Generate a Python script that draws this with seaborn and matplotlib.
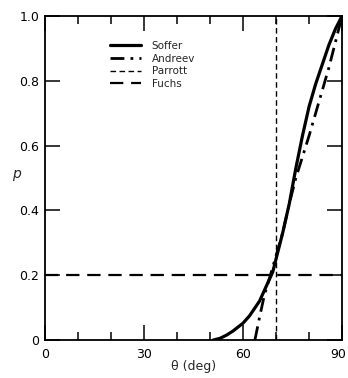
import matplotlib
matplotlib.use("Agg")
import matplotlib.pyplot as plt
from matplotlib.lines import Line2D
from matplotlib.ticker import MultipleLocator
from matplotlib.transforms import ScaledTranslation
import seaborn as sns
import pandas as pd

# Detection probability p versus angle theta for four models
soffer_theta = [51, 53, 55, 57, 60, 62, 65, 67, 69, 70, 72, 74, 76, 78, 80, 82, 84, 86, 88, 90]
soffer_p = [0.0, 0.005, 0.015, 0.028, 0.052, 0.075, 0.12, 0.165, 0.21, 0.25,
            0.33, 0.42, 0.53, 0.63, 0.72, 0.79, 0.85, 0.91, 0.96, 1.0]

andreev_theta = [63.6, 65, 66.5, 68, 70, 72, 74, 76, 78, 80, 82, 84, 86, 88, 90]
andreev_p = [0.0, 0.07, 0.14, 0.19, 0.26, 0.33, 0.42, 0.50, 0.565, 0.63,
             0.70, 0.77, 0.84, 0.92, 1.0]

parrott_theta = [70, 70]
parrott_p = [0.0, 1.0]

fuchs_theta = [0, 90]
fuchs_p = [0.2, 0.2]

x_ticks = [0, 30, 60, 90]
y_ticks = [0, 0.2, 0.4, 0.6, 0.8, 1.0]
y_tick_labels = ["0", "0.2", "0.4", "0.6", "0.8", "1.0"]

sns.set_theme(style="ticks")
plt.rcParams["font.family"] = ["DejaVu Sans"]

fig = plt.figure(figsize=(3.48, 3.78), dpi=100)
ax = fig.add_axes([0.129, 0.1005, 0.854, 0.8575])

styles = {
    "Soffer": dict(color="black", linewidth=2.3, linestyle="-"),
    "Andreev": dict(color="black", linewidth=2.0, linestyle=(0, (5, 2.2, 1, 2.2))),
    "Parrott": dict(color="black", linewidth=1.0, linestyle=(0, (4, 2.5))),
    "Fuchs": dict(color="black", linewidth=1.6, linestyle=(0, (6, 3.5))),
}

series = [
    ("Soffer", soffer_theta, soffer_p),
    ("Andreev", andreev_theta, andreev_p),
    ("Parrott", parrott_theta, parrott_p),
    ("Fuchs", fuchs_theta, fuchs_p),
]

for name, th, p in series:
    df = pd.DataFrame({"theta": th, "p": p})
    sns.lineplot(data=df, x="theta", y="p", ax=ax, estimator=None, sort=False,
                 legend=False, **styles[name])

ax.set_xlim(0, 90)
ax.set_ylim(0, 1.0)
ax.set_xticks(x_ticks)
ax.set_xticklabels([str(v) for v in x_ticks])
ax.xaxis.set_minor_locator(MultipleLocator(10))
ax.set_yticks(y_ticks)
ax.set_yticklabels(y_tick_labels)

for spine in ax.spines.values():
    spine.set_linewidth(1.3)
    spine.set_color("black")

ax.tick_params(axis="x", which="major", direction="in", length=11, width=1.1,
               top=True, labelsize=9, pad=6, colors="black")
ax.tick_params(axis="x", which="minor", direction="in", length=6, width=1.1,
               top=True, colors="black")
ax.tick_params(axis="y", which="major", direction="in", length=11, width=1.1,
               right=True, labelsize=9, pad=4, colors="black")

# keep the last x tick label inside the figure edge
last = ax.get_xticklabels()[-1]
last.set_transform(last.get_transform() + ScaledTranslation(-4 / 100, 0, fig.dpi_scale_trans))

ax.set_xlabel("θ (deg)", fontsize=9, labelpad=-1)
ax.set_ylabel("p", fontsize=10, style="italic", rotation=0, labelpad=12)
ax.yaxis.set_label_coords(-0.095, 0.49)

handles = [Line2D([], [], **styles[n]) for n, _, _ in series]
labels = [n for n, _, _ in series]
leg = ax.legend(handles, labels, loc="upper left", bbox_to_anchor=(0.205, 0.935),
                frameon=False, fontsize=7.5, handlelength=3.0, handletextpad=1.0,
                labelspacing=0.25, borderaxespad=0)

fig.savefig("out.png", dpi=100)
